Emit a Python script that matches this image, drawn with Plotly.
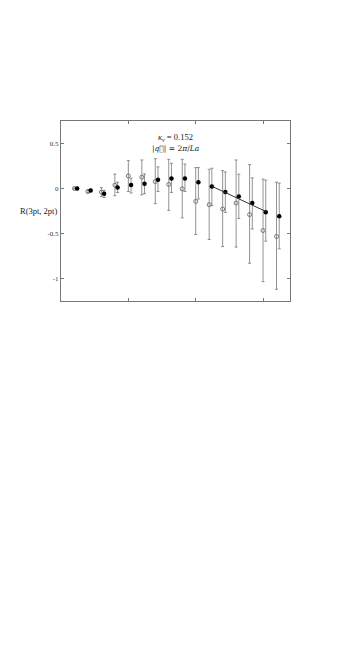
import plotly.graph_objects as go

# time slices (open points at t, filled points shifted by +0.2)
t_vals = list(range(1, 17))

open_val = [0.0, -0.033, -0.04, 0.037, 0.14, 0.126, 0.077, 0.045, -0.003, -0.143, -0.18, -0.228, -0.161, -0.29, -0.467, -0.533]
open_hi = [0.005, -0.015, 0.01, 0.16, 0.31, 0.317, 0.331, 0.324, 0.324, 0.232, 0.214, 0.199, 0.317, 0.265, 0.104, 0.07]
open_lo = [-0.005, -0.05, -0.09, -0.08, -0.033, -0.07, -0.169, -0.243, -0.327, -0.511, -0.566, -0.645, -0.651, -0.831, -1.035, -1.12]

fill_val = [0.0, -0.022, -0.058, 0.011, 0.04, 0.052, 0.096, 0.11, 0.11, 0.07, 0.022, -0.04, -0.088, -0.161, -0.265, -0.309]
fill_hi = [0.005, -0.008, -0.02, 0.07, 0.115, 0.162, 0.24, 0.28, 0.272, 0.232, 0.225, 0.184, 0.159, 0.118, 0.093, 0.06]
fill_lo = [-0.005, -0.036, -0.1, -0.044, -0.05, -0.058, -0.033, -0.044, -0.033, -0.117, -0.19, -0.265, -0.334, -0.45, -0.585, -0.67]

# linear fit over the plateau
fit_x = [11.2, 15.2]
fit_y = [0.025, -0.255]

y_ticks = [0.5, 0, -0.5, -1]
y_labels = ["0.5", "0", "-0.5", "-1"]
x_ticks = [5, 10, 15]

FONT = "Liberation Serif"
GREY = "#777777"
TEXT = "#222222"

fig = go.Figure()

# open circles
fig.add_trace(go.Scatter(
    x=t_vals, y=open_val, mode="markers",
    marker=dict(symbol="circle-open", size=4, color=GREY, line=dict(width=1)),
    error_y=dict(type="data", symmetric=False,
                 array=[h - v for h, v in zip(open_hi, open_val)],
                 arrayminus=[v - l for l, v in zip(open_lo, open_val)],
                 color=GREY, thickness=0.8, width=1.5),
    showlegend=False,
))

# filled points
fig.add_trace(go.Scatter(
    x=[t + 0.2 for t in t_vals], y=fill_val, mode="markers",
    marker=dict(symbol="circle", size=4.5, color="black"),
    error_y=dict(type="data", symmetric=False,
                 array=[h - v for h, v in zip(fill_hi, fill_val)],
                 arrayminus=[v - l for l, v in zip(fill_lo, fill_val)],
                 color=GREY, thickness=0.8, width=1.5),
    showlegend=False,
))

fig.add_trace(go.Scatter(
    x=fit_x, y=fit_y, mode="lines",
    line=dict(color="#333333", width=1),
    showlegend=False,
))

fig.update_xaxes(
    range=[0, 17], tickvals=x_ticks, showticklabels=False,
    ticks="inside", ticklen=3, tickcolor=GREY,
    showline=True, linecolor=GREY, linewidth=1, mirror="ticks",
    showgrid=False, zeroline=False,
)
fig.update_yaxes(
    range=[-1.25, 0.75], tickvals=y_ticks, ticktext=y_labels,
    ticks="inside", ticklen=3, tickcolor=GREY,
    showline=True, linecolor=GREY, linewidth=1, mirror="ticks",
    showgrid=False, zeroline=False,
    tickfont=dict(family=FONT, size=7, color="#333333"),
)

# y axis label written horizontally to the left of the frame
fig.add_annotation(
    x=0, y=0.5, xref="paper", yref="paper", xanchor="right", yanchor="middle",
    xshift=-2, text="R(3pt, 2pt)", showarrow=False,
    font=dict(family=FONT, size=8.5, color=TEXT),
)

fig.add_annotation(
    x=0.5, y=0.91, xref="paper", yref="paper", xanchor="center", yanchor="middle",
    text="<i>κ<sub>v</sub></i> = 0.152", showarrow=False,
    font=dict(family=FONT, size=8.5, color=TEXT),
)
fig.add_annotation(
    x=0.5, y=0.845, xref="paper", yref="paper", xanchor="center", yanchor="middle",
    text="|<i>q\u20d7</i>| = 2<i>π</i>/<i>La</i>", showarrow=False,
    font=dict(family="DejaVu Serif", size=7.5, color=TEXT),
)

# page body has an 8px margin, so the figure is a little narrower/shorter
fig.update_layout(
    width=340, height=637,
    margin=dict(l=53, r=58, t=113, b=344),
    plot_bgcolor="white", paper_bgcolor="white",
)

fig.write_html("out.html")
